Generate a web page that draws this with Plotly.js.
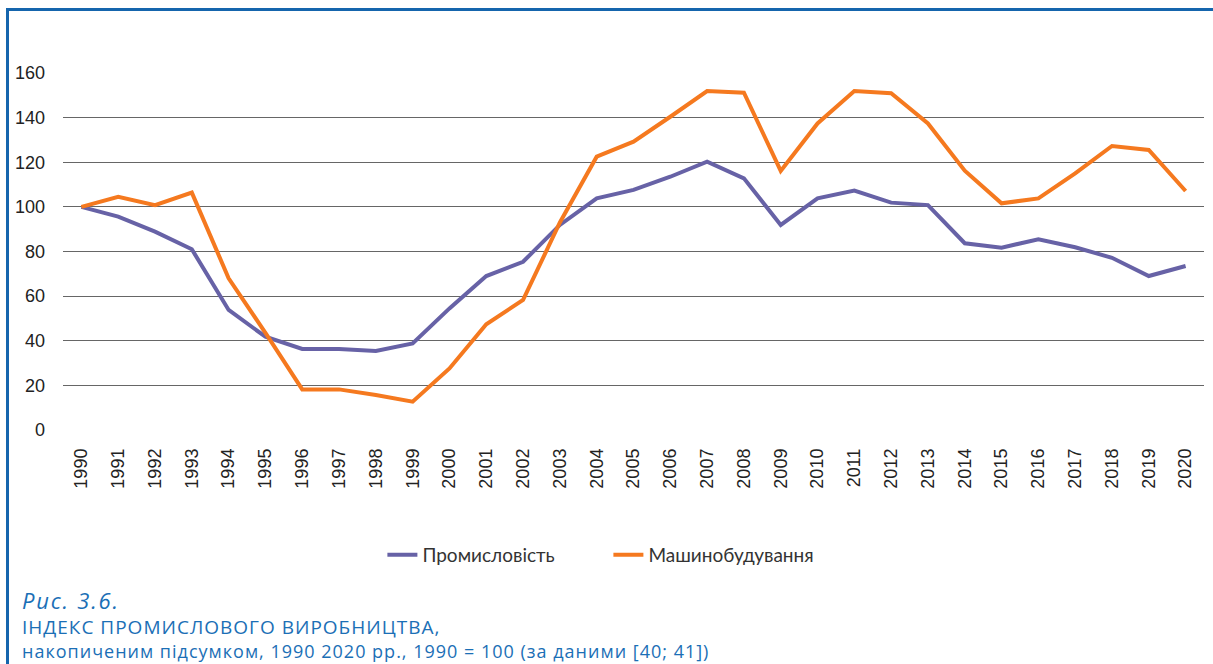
<!DOCTYPE html>
<html>
<head>
<meta charset="utf-8">
<script src="https://cdn.plot.ly/plotly-3.0.1.min.js"></script>
<style>
  html, body { margin: 0; padding: 0; background: #fff; }
  #wrap { position: relative; width: 1213px; height: 664px; overflow: hidden; }
  #chart { position: absolute; left: 0; top: 0; width: 1213px; height: 664px; }
  #frame { position: absolute; left: 6px; top: 8px; right: 0; bottom: 0;
           border-left: 3px solid #1565ad; border-top: 3px solid #1565ad; pointer-events: none; }
  .cap { position: absolute; left: 22px; white-space: nowrap; color: #1b6fb6;
         font-family: 'Open Sans', sans-serif; letter-spacing: 1px; }
  #cap0 { top: 587px; font-size: 22px; line-height: 26px; font-style: italic; letter-spacing: 1.8px; }
  #cap1 { top: 615px; font-size: 19px; line-height: 24px; }
  #cap2 { top: 640px; font-size: 18px; line-height: 22px; }
</style>
</head>
<body>
<div id="wrap">
  <div id="chart"></div>
  <div id="frame"></div>
  <div class="cap" id="cap0"></div>
  <div class="cap" id="cap1"></div>
  <div class="cap" id="cap2"></div>
</div>
<script>
const years = ['1990','1991','1992','1993','1994','1995','1996','1997','1998','1999',
  '2000','2001','2002','2003','2004','2005','2006','2007','2008','2009',
  '2010','2011','2012','2013','2014','2015','2016','2017','2018','2019','2020'];

const industry = [100, 95.6, 88.9, 81, 53.8, 41.8, 36.3, 36.3, 35.4, 38.8,
  54.5, 69, 75.4, 91.9, 103.8, 107.6, 113.5, 120.3, 112.8, 91.9,
  103.8, 107.3, 101.9, 100.8, 83.7, 81.7, 85.5, 81.9, 77.2, 69, 73.5];

const machinery = [100, 104.5, 100.8, 106.4, 68, 43.5, 18.2, 18.2, 15.7, 12.7,
  27.6, 47.4, 58.3, 93, 122.5, 129.2, 140.4, 151.9, 151.2, 116.1,
  137.4, 151.9, 150.9, 137.4, 116.2, 101.6, 103.8, 115, 127.3, 125.5, 107.1];

const seriesNames = ['Промисловість', 'Машинобудування'];
const yTicks = [0, 20, 40, 60, 80, 100, 120, 140, 160];

const captionLines = ['Рис. 3.6.', 'ІНДЕКС ПРОМИСЛОВОГО ВИРОБНИЦТВА,',
  'накопиченим підсумком, 1990 2020 рр., 1990 = 100 (за даними [40; 41])'];

captionLines.forEach((t, i) => { document.getElementById('cap' + i).textContent = t; });

const traces = [
  { x: years, y: industry, name: seriesNames[0], type: 'scatter', mode: 'lines',
    line: { color: '#6762a6', width: 4 } },
  { x: years, y: machinery, name: seriesNames[1], type: 'scatter', mode: 'lines',
    line: { color: '#f5791f', width: 4 } }
];

const layout = {
  width: 1213, height: 664,
  margin: { l: 63, r: 9, t: 73, b: 234 },
  paper_bgcolor: '#ffffff', plot_bgcolor: '#ffffff',
  showlegend: true,
  legend: { orientation: 'h', x: 0.478, xanchor: 'center', y: -0.35, yanchor: 'middle',
    font: { family: 'Lato, sans-serif', size: 19, color: '#333333' },
    entrywidth: 181, entrywidthmode: 'pixels', tracegroupgap: 0 },
  xaxis: { type: 'category', range: [-0.5, 30.5], tickvals: years, ticktext: years, tickangle: -90,
    showgrid: false, zeroline: false, showline: false, ticks: '', ticklabelstandoff: 14,
    tickfont: { family: 'Liberation Sans, Arial, sans-serif', size: 18, color: '#222' },
    automargin: false },
  yaxis: { range: [0, 160], tickvals: yTicks, showgrid: true, gridcolor: '#666666', gridwidth: 1.2,
    zeroline: false, showline: false, ticks: '', ticklabelstandoff: 17,
    tickfont: { family: 'Liberation Sans, Arial, sans-serif', size: 18, color: '#222' },
    automargin: false }
};

Plotly.newPlot('chart', traces, layout, { displayModeBar: false, staticPlot: true });
</script>
</body>
</html>
